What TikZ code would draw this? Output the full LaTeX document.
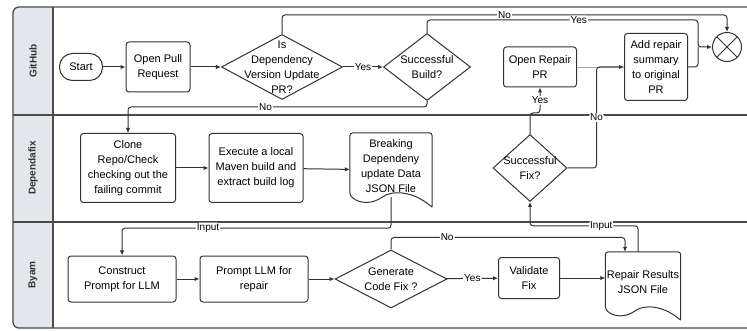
\documentclass[tikz,border=0pt]{standalone}
\usepackage{fontspec}
\setmainfont{Liberation Sans}
\usetikzlibrary{shapes.geometric,arrows.meta,calc}

\definecolor{gr}{HTML}{333333}
\definecolor{hdr}{HTML}{E3E6EA}
\definecolor{fr}{HTML}{4A4A4A}

% document shape round a named node
\newcommand{\docshape}[1]{%
  \draw[ln] let \p1=(#1.north west), \p2=(#1.south east) in
    (\p2) [rounded corners=3pt] -- (\x2,\y1) -- (\p1) -- (\x1,{\y1+.84*(\y2-\y1)}) [sharp corners]
    .. controls ({\x1+.12*(\x2-\x1)},{\y1+.96*(\y2-\y1)}) and ({\x1+.28*(\x2-\x1)},{\y1+.96*(\y2-\y1)}) .. ({\x1+.4*(\x2-\x1)},{\y1+.86*(\y2-\y1)})
    .. controls ({\x1+.5*(\x2-\x1)},{\y1+.78*(\y2-\y1)}) and ({\x1+.75*(\x2-\x1)},{\y1+.76*(\y2-\y1)}) .. (\p2);}

\begin{document}
\begin{tikzpicture}[x=1pt, y=-1pt, font=\fontsize{11}{15}\selectfont,
    ln/.style={draw=gr, line width=1pt},
    box/.style={ln, rounded corners=3pt, align=center, inner sep=0pt},
    term/.style={ln, rounded corners=13pt, inner sep=0pt, minimum width=43pt, minimum height=27pt},
    dia/.style={ln, diamond, inner sep=0pt, label={[align=center]center:#1}},
    doc/.style={inner sep=0pt, label={[align=center, yshift=4pt]center:#1}},
    flow/.style={ln, rounded corners=3pt, -{Latex[length=5pt,width=4.5pt]}},
    lbl/.style={font=\fontsize{10}{12}\selectfont, fill=white, inner sep=1pt},
    lane/.style={rotate=90, font=\fontsize{10}{12}\selectfont\bfseries, text=gr}]
    \useasboundingbox (0,0) rectangle (747,331);
    \fill[white] (0,0) rectangle (747,331);
    \clip (0,0) rectangle (747,331);

    % lanes
    \begin{scope}
      \clip (13,7) rectangle (53,328);
      \fill[hdr, rounded corners=6pt] (13,7) rectangle (90,328);
    \end{scope}
    \draw[fr, line width=1.3pt, rounded corners=6pt] (13,7) rectangle (770,328);
    \draw[fr, line width=1.3pt] (13,115) -- (770,115) (13,222) -- (770,222) (53,7) -- (53,328);
    \node[lane] (gh) at (33,61) {GitHub};
    \node[lane] (df) at (33,168) {Dependafix};
    \node[lane] (by) at (33,275) {Byam};

    % GitHub
    \node[term] (st) at (81,67) {Start};
    \node[box, minimum width=64pt, minimum height=50pt] (opr) at (158,67) {Open Pull\\Request};
    \node[dia={Is\\Dependency\\Version Update\\PR?}, minimum width=121pt, minimum height=65pt] (d1) at (282,67) {};
    \node[dia={Successful\\Build?}, minimum width=87pt, minimum height=67pt] (d2) at (427,67) {};
    \node[box, minimum width=73pt, minimum height=40pt] (orp) at (540,67) {Open Repair\\PR};
    \node[box, minimum width=63pt, minimum height=67pt] (add) at (656,67) {Add repair\\summary\\to original\\PR};
    \node[circle, ln, minimum size=29pt, inner sep=0pt,
      path picture={\draw[gr, line width=1pt] (path picture bounding box.south west) -- (path picture bounding box.north east)
        (path picture bounding box.north west) -- (path picture bounding box.south east);}] (cx) at (727,47) {};
    \coordinate (j) at (698,47);

    % Dependafix
    \node[box, minimum width=95pt, minimum height=69pt] (cl) at (128,168) {Clone\\Repo/Check\\checking out the\\failing commit};
    \node[box, minimum width=94pt, minimum height=69pt] (ex) at (256,168) {Execute a local\\Maven build and\\extract build log};
    \node[doc={Breaking\\Dependeny\\update Data\\JSON File}, minimum width=82pt, minimum height=74pt] (bd) at (391,170) {};
    \node[dia={Successful\\Fix?}, minimum width=74pt, minimum height=67pt] (fx) at (530,168) {};

    % Byam
    \node[box, minimum width=108pt, minimum height=46pt] (cp) at (122,279) {Construct\\Prompt for LLM};
    \node[box, minimum width=108pt, minimum height=46pt] (pl) at (254,279) {Prompt LLM for\\repair};
    \node[dia={Generate\\Code Fix ?}, minimum width=112pt, minimum height=58pt] (gc) at (391,279) {};
    \node[box, minimum width=61pt, minimum height=41pt] (vf) at (529,278) {Validate\\Fix};
    \node[doc={Repair Results\\JSON File}, minimum width=75pt, minimum height=68pt] (rr) at (643,286) {};
    \docshape{bd}
    \docshape{rr}

    \draw[flow] (st) to (opr);
    \draw[flow] (opr) to (d1);
    \draw[flow] (d1) to node[lbl] {Yes} (d2);
    \draw[flow] (d1.north) -- ++(0,-19) -| node[lbl, pos=.25] {No} (cx.north);
    \draw[flow] (d2.north) -- ++(0,-13) -| node[lbl, pos=.28] {Yes} (j) -- (cx.west);
    \draw[ln, rounded corners=3pt] (add.east) -| (j);
    \draw[flow] (d2.south) -- ++(0,6) -| node[lbl, pos=.27] {No} (cl.north);
    \draw[gray!70, line width=.6pt] (orp) to (add);
    \draw[flow] (fx.north) -- ++(0,-21) -| node[lbl, pos=.75] {Yes} (orp.south);
    \draw[flow] (fx.east) -- ++(29,0) |- node[lbl, pos=.25] {No} (add.west);
    \draw[flow] (cl) to (ex);
    \draw[flow] (ex) to (bd);
    \draw[flow] ($(bd.south)+(0,-10)$) -- ++(0,31) -| node[lbl, pos=.34] {Input} (cp.north);
    \draw[flow] ($(rr.north)+(-5,0)$) -- ++(0,-26) -| node[lbl, pos=.17] {Input} (fx.south);
    \draw[flow] (cp) to (pl);
    \draw[flow] (pl) to (gc);
    \draw[flow] (gc) to node[lbl] {Yes} (vf);
    \draw[flow] (gc.north) -- ++(0,-12) -| node[lbl, pos=.12] {No} ($(rr.north)+(-18,0)$);
    \draw[flow] (vf) to (vf -| rr.west);
  \end{tikzpicture}
\end{document}
